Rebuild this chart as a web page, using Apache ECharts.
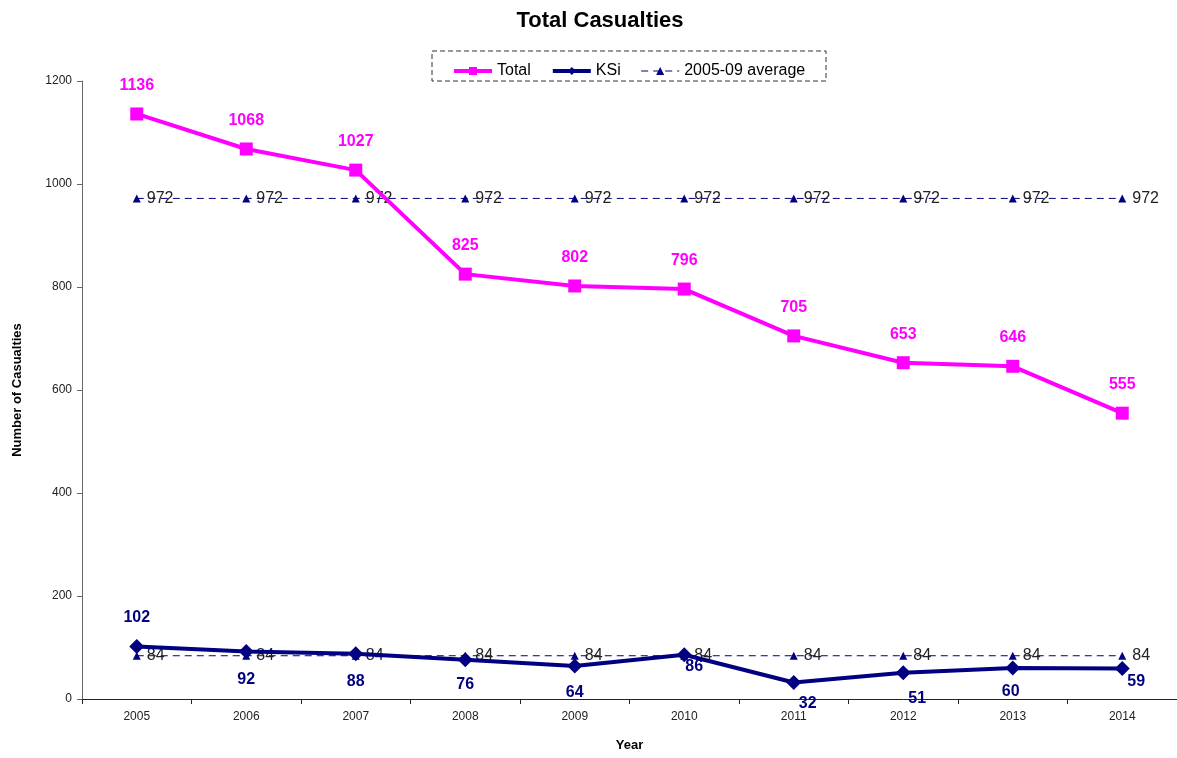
<!DOCTYPE html>
<html lang="en" style="height: 100%">
<head>
  <meta charset="utf-8">
</head>
<body style="height: 100%; margin: 0; background: #fff">
  <div id="container" style="width: 1177px; height: 758px"></div>
  <script type="text/javascript" src="https://cdn.jsdelivr.net/npm/echarts@6/dist/echarts.min.js"></script>
  <script type="text/javascript">
    var years = ['2005', '2006', '2007', '2008', '2009', '2010', '2011', '2012', '2013', '2014'];
    var total = [1136, 1068, 1027, 825, 802, 796, 705, 653, 646, 555];
    var ksi = [102, 92, 88, 76, 64, 86, 32, 51, 60, 59];
    var totalAvg = [972, 972, 972, 972, 972, 972, 972, 972, 972, 972];
    var ksiAvg = [84, 84, 84, 84, 84, 84, 84, 84, 84, 84];

    // where each KSi label sits relative to its point
    var ksiLabelOffsets = [[0, -29], [0, 28], [0, 28], [0, 25], [0, 27], [10, 12], [14, 21], [14, 26], [-2, 23], [14, 13]];

    var FONT = 'Liberation Sans, Arial, sans-serif';
    var dom = document.getElementById('container');
    var myChart = echarts.init(dom, null, { renderer: 'canvas' });

    var avgSeries = function (data) {
      return {
        name: '2005-09 average',
        type: 'line',
        data: data,
        symbol: 'triangle',
        symbolSize: 8,
        lineStyle: { color: '#000080', width: 1, type: [7, 5] },
        itemStyle: { color: '#000080' },
        label: {
          show: true,
          position: 'right',
          distance: 6,
          color: '#222',
          fontFamily: FONT,
          fontSize: 16
        },
        z: 2
      };
    };

    var option = {
      animation: false,
      backgroundColor: '#fff',
      title: {
        text: 'Total Casualties',
        left: 595,
        top: 5,
        textAlign: 'center',
        textStyle: { fontFamily: FONT, fontSize: 22, fontWeight: 'bold', color: '#000' }
      },
      legend: {
        top: 58,
        left: 447,
        itemGap: 20,
        itemWidth: 38,
        itemHeight: 10,
        textStyle: { fontFamily: FONT, fontSize: 16, color: '#000' },
        data: [
          { name: 'Total', lineStyle: { width: 4 } },
          { name: 'KSi', lineStyle: { width: 4 } },
          { name: '2005-09 average', lineStyle: { width: 1 } }
        ]
      },
      graphic: [{
        type: 'rect',
        shape: { x: 432, y: 51, width: 394, height: 30 },
        style: { fill: 'none', stroke: '#333', lineWidth: 1, lineDash: [5, 3] }
      }],
      grid: { left: 82, right: 0, top: 81, bottom: 59 },
      xAxis: {
        type: 'category',
        data: years,
        boundaryGap: true,
        name: 'Year',
        nameLocation: 'middle',
        nameGap: 40,
        nameTextStyle: { fontFamily: FONT, fontSize: 13, fontWeight: 'bold', color: '#000' },
        axisLine: { lineStyle: { color: '#222' } },
        axisTick: { show: true, alignWithLabel: false, length: 5, lineStyle: { color: '#222' } },
        axisLabel: { fontFamily: FONT, fontSize: 12, color: '#222', margin: 12 },
        splitLine: { show: false }
      },
      yAxis: {
        type: 'value',
        min: 0,
        max: 1200,
        interval: 200,
        name: 'Number of Casualties',
        nameLocation: 'middle',
        nameGap: 58,
        nameTextStyle: { fontFamily: FONT, fontSize: 13, fontWeight: 'bold', color: '#000' },
        axisLine: { show: true, lineStyle: { color: '#666' } },
        axisTick: { show: true, length: 5, lineStyle: { color: '#666' } },
        axisLabel: {
          fontFamily: FONT, fontSize: 12, color: '#222', margin: 10,
          formatter: function (v) { return String(v); }
        },
        splitLine: { show: false }
      },
      series: [
        avgSeries(totalAvg),
        avgSeries(ksiAvg),
        {
          name: 'Total',
          type: 'line',
          data: total,
          symbol: 'rect',
          symbolSize: 13,
          lineStyle: { color: '#FF00FF', width: 4 },
          itemStyle: { color: '#FF00FF' },
          label: {
            show: true,
            position: 'top',
            distance: 14,
            color: '#FF00FF',
            fontFamily: FONT,
            fontSize: 16,
            fontWeight: 'bold'
          },
          z: 3
        },
        {
          name: 'KSi',
          type: 'line',
          data: ksi.map(function (v, i) {
            return { value: v, label: { offset: ksiLabelOffsets[i] } };
          }),
          symbol: 'diamond',
          symbolSize: 15,
          lineStyle: { color: '#000080', width: 4 },
          itemStyle: { color: '#000080' },
          label: {
            show: true,
            position: 'inside',
            color: '#000080',
            fontFamily: FONT,
            fontSize: 16,
            fontWeight: 'bold'
          },
          z: 4
        }
      ]
    };

    myChart.setOption(option);
    window.addEventListener('resize', myChart.resize);
  </script>
</body>
</html>
